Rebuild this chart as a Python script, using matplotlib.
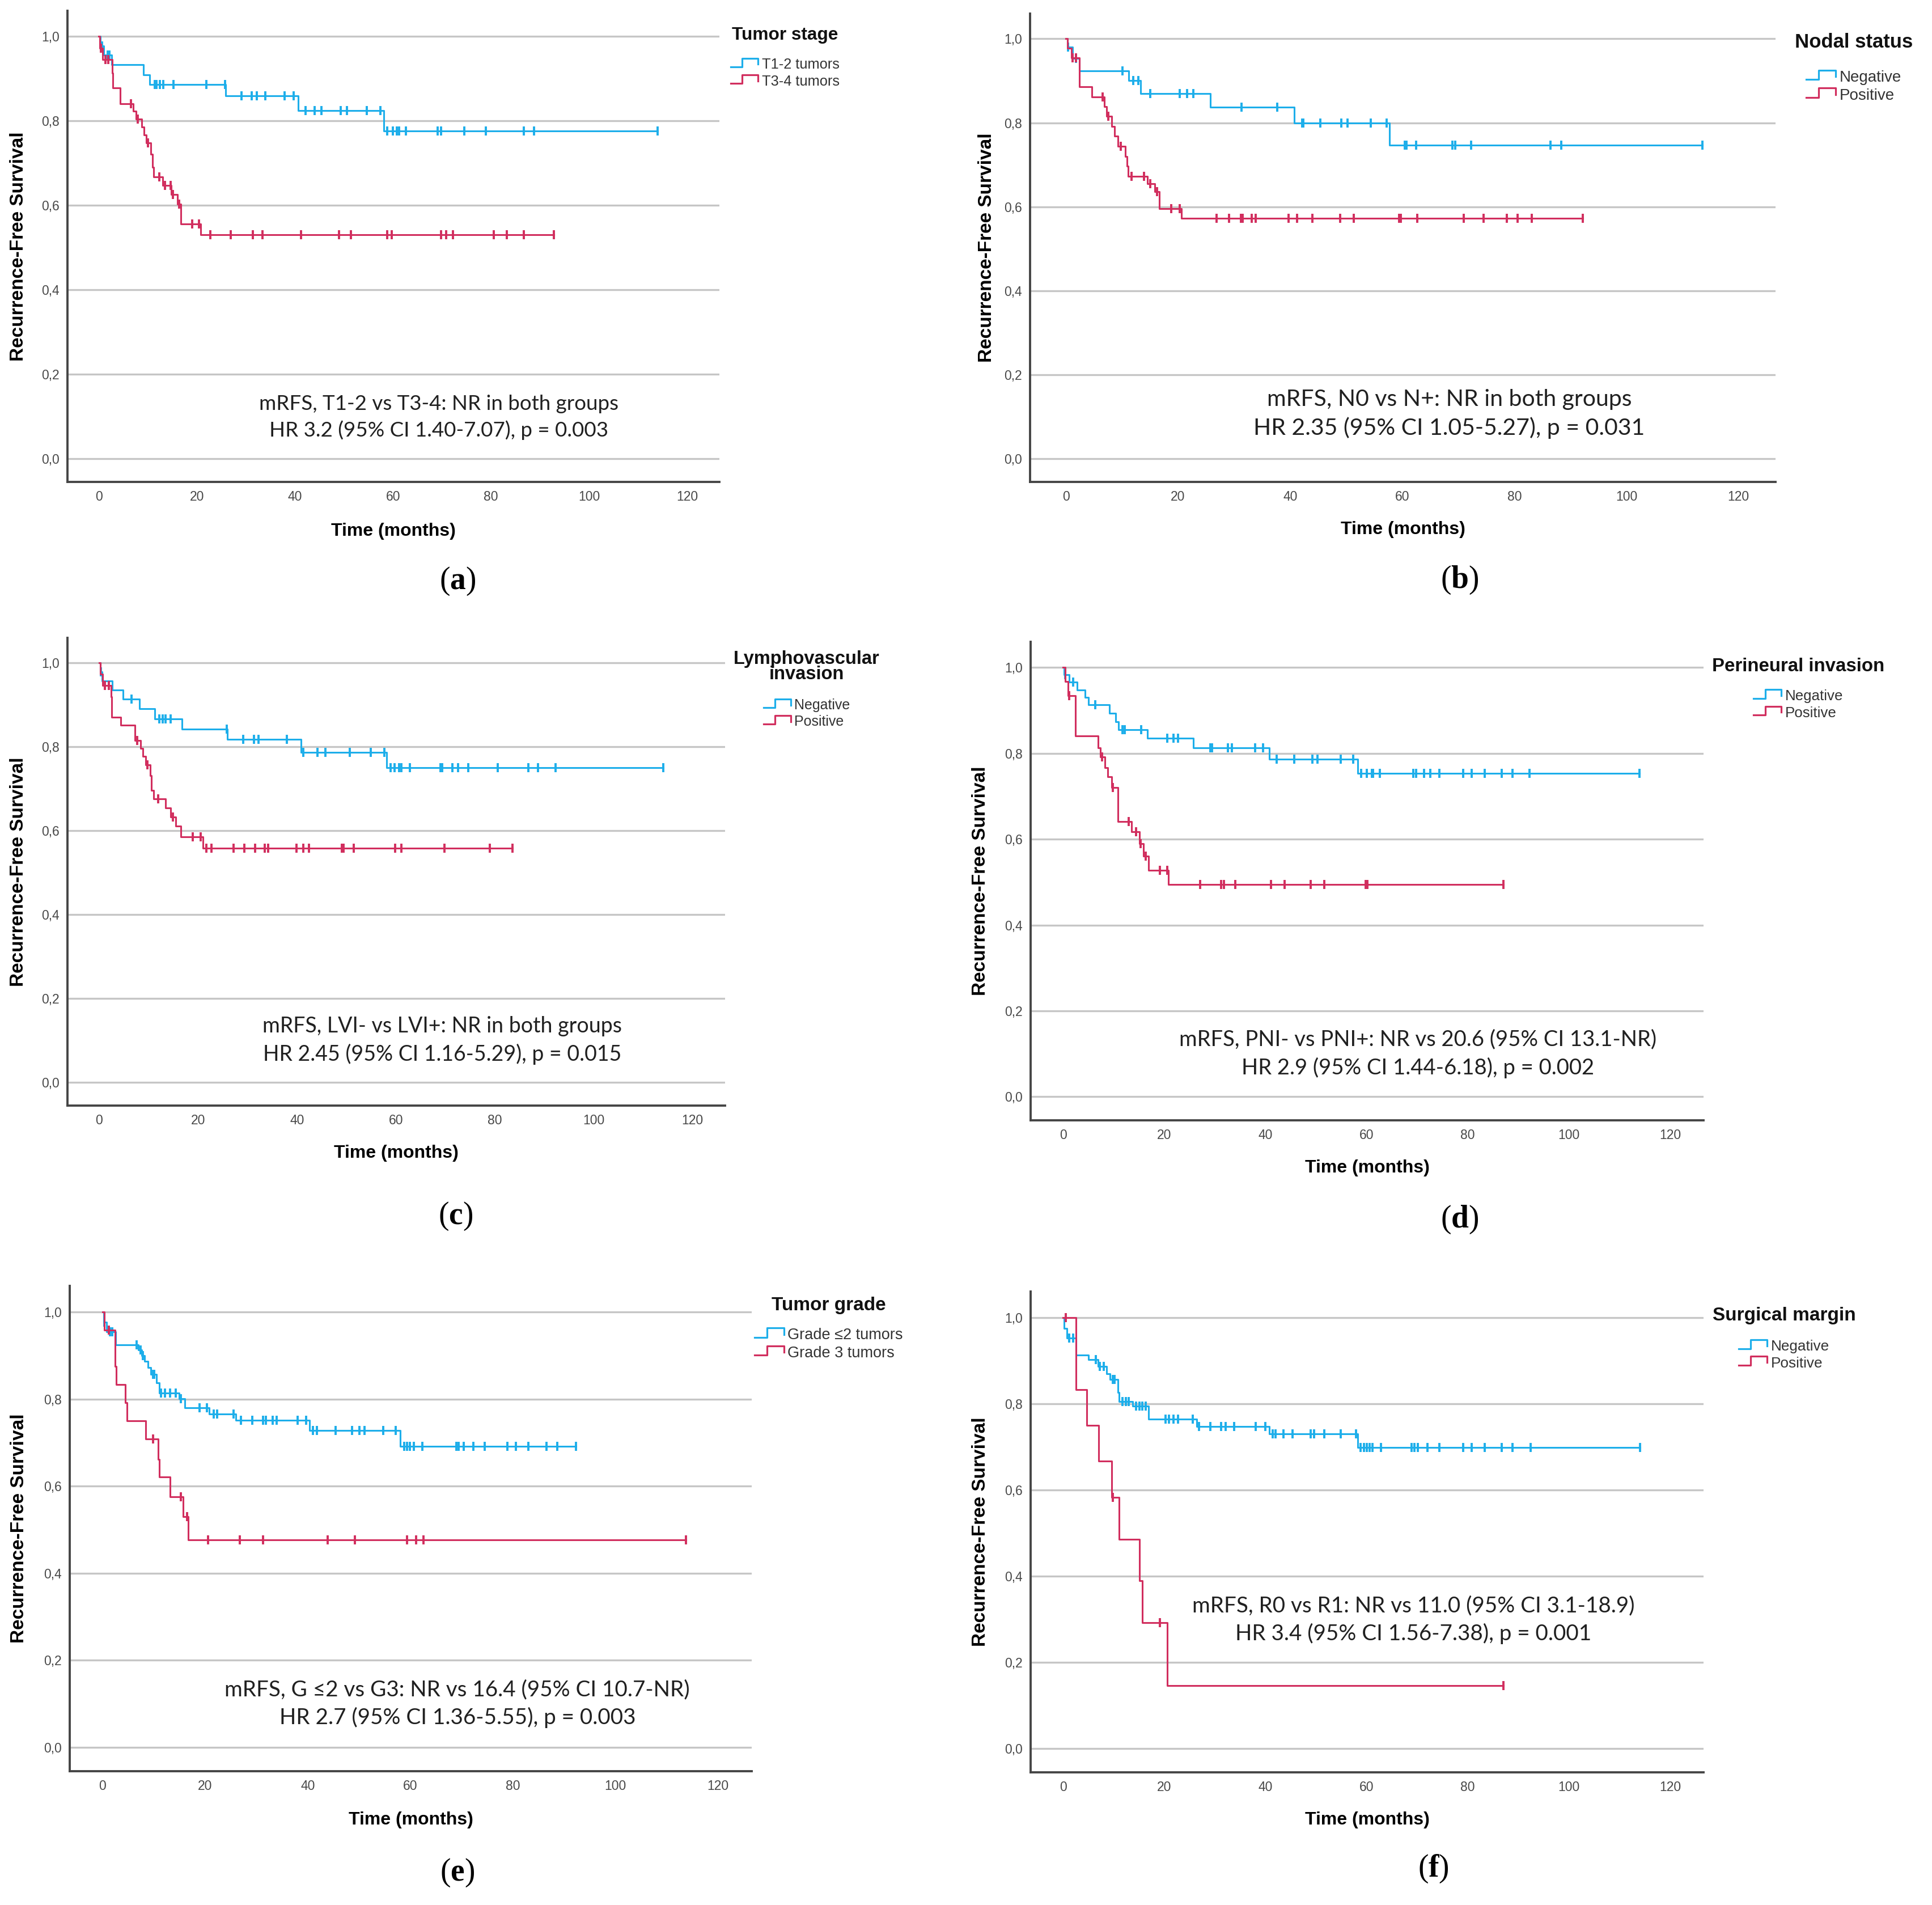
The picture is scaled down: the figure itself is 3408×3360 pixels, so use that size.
"""
Kaplan-Meier curves of metastasis/recurrence-free survival, six panels (a)-(f)
"""
import matplotlib.pyplot as plt
import numpy as np
from matplotlib.legend_handler import HandlerBase
from matplotlib.lines import Line2D

# ---------------- data ----------------
# *_t: event times (months), *_s: survival after each event, *_c: censored times
# (a) Tumor stage
a_blue_t = [0.3, 1.0, 2.6, 9.1, 10.4, 25.9, 40.7, 58.1]
a_blue_s = [0.977, 0.955, 0.932, 0.909, 0.886, 0.859, 0.824, 0.775]
a_blue_c = [0.6, 1.8, 2.2, 11.4, 11.8, 12.4, 13.1, 15.2, 21.9, 25.7, 29.1, 31.2, 32.2, 34.0,
            37.9, 39.7, 42.2, 44.0, 45.4, 49.4, 50.6, 54.7, 57.4, 58.8, 60.0, 60.8, 61.2,
            62.6, 69.1, 69.8, 74.6, 79.0, 86.7, 88.8, 114.0]
a_red_t = [0.2, 0.8, 2.7, 2.8, 4.4, 7.0, 7.6, 8.7, 9.2, 9.7, 10.6, 11.0, 11.2, 13.0, 14.8,
           16.0, 16.7, 20.8]
a_red_s = [0.972, 0.945, 0.912, 0.878, 0.840, 0.822, 0.804, 0.785, 0.766, 0.747, 0.720,
           0.690, 0.667, 0.647, 0.625, 0.603, 0.555, 0.530]
a_red_c = [0.4, 1.4, 1.9, 6.6, 7.9, 10.0, 12.3, 13.5, 14.6, 15.1, 16.4, 19.0, 20.4, 22.8,
           26.9, 31.4, 33.4, 41.3, 49.0, 51.4, 58.8, 59.7, 69.8, 70.8, 72.3, 80.6, 83.2,
           86.7, 92.8]

# (b) Nodal status
b_blue_t = [0.3, 1.2, 2.4, 11.2, 13.3, 25.8, 40.7, 57.7]
b_blue_s = [0.980, 0.953, 0.924, 0.901, 0.870, 0.837, 0.800, 0.747]
b_blue_c = [0.4, 1.8, 10.1, 12.0, 12.9, 15.0, 20.3, 21.6, 22.7, 31.3, 37.7, 42.1, 42.3, 45.4,
            49.1, 50.2, 54.4, 57.2, 60.5, 60.8, 62.5, 69.0, 69.5, 72.3, 86.4, 88.4, 113.6]
b_red_t = [0.3, 1.0, 2.4, 4.6, 6.8, 7.3, 8.2, 8.7, 9.3, 10.6, 10.9, 11.1, 14.5, 15.9, 16.7, 20.6]
b_red_s = [0.977, 0.955, 0.886, 0.862, 0.838, 0.815, 0.791, 0.768, 0.744, 0.720, 0.697,
           0.673, 0.655, 0.636, 0.595, 0.573]
b_red_c = [1.2, 1.8, 6.5, 7.6, 9.8, 11.7, 13.9, 15.0, 16.3, 18.8, 20.3, 26.9, 29.1, 31.2,
           31.5, 33.1, 33.9, 39.7, 41.2, 44.0, 48.9, 51.4, 59.4, 59.7, 62.7, 71.0, 74.5,
           78.7, 80.6, 83.1, 92.2]

# (c) Lymphovascular invasion
c_blue_t = [0.2, 0.6, 2.7, 4.8, 8.2, 11.3, 16.8, 25.9, 40.8, 58.2]
c_blue_s = [0.979, 0.957, 0.935, 0.914, 0.891, 0.867, 0.843, 0.818, 0.787, 0.750]
c_blue_c = [0.4, 6.5, 12.2, 12.9, 13.4, 14.5, 25.8, 29.1, 31.3, 32.2, 38.0, 41.3, 44.2, 45.8,
            50.7, 54.9, 57.7, 59.0, 59.7, 60.7, 61.1, 62.8, 69.0, 69.4, 71.4, 72.6, 74.7,
            80.6, 86.8, 88.8, 92.3, 114.1]
c_red_t = [0.2, 0.7, 2.4, 2.5, 4.4, 7.2, 8.4, 8.9, 9.4, 10.3, 10.6, 11.0, 13.4, 14.5, 15.5,
           16.5, 21.0]
c_red_s = [0.974, 0.947, 0.920, 0.871, 0.852, 0.816, 0.796, 0.777, 0.757, 0.731, 0.697,
           0.676, 0.654, 0.633, 0.611, 0.585, 0.559]
c_red_c = [1.2, 2.0, 7.7, 9.8, 11.9, 14.9, 18.9, 20.5, 21.7, 22.7, 27.2, 29.4, 31.5, 33.5,
           34.2, 39.9, 41.3, 42.5, 49.1, 49.4, 51.5, 59.9, 61.1, 69.9, 79.0, 83.6]

# (d) Perineural invasion
d_blue_t = [0.2, 1.2, 2.8, 4.4, 5.0, 9.2, 10.4, 11.0, 16.7, 25.8, 40.8, 58.2]
d_blue_s = [0.983, 0.966, 0.948, 0.931, 0.913, 0.893, 0.874, 0.855, 0.836, 0.813, 0.786, 0.753]
d_blue_c = [0.4, 2.0, 6.4, 11.8, 12.2, 15.4, 20.6, 21.8, 22.7, 29.1, 29.5, 32.6, 33.4, 38.0,
            39.5, 42.2, 45.7, 49.3, 50.3, 54.9, 57.3, 58.9, 60.0, 61.0, 61.3, 62.6, 69.2,
            69.8, 71.4, 72.6, 74.4, 79.1, 80.8, 83.4, 86.7, 88.8, 92.2, 113.9]
d_red_t = [0.4, 1.0, 2.4, 6.9, 7.4, 8.3, 8.8, 9.6, 10.8, 13.6, 15.1, 15.9, 16.9, 20.8]
d_red_s = [0.967, 0.935, 0.841, 0.813, 0.792, 0.767, 0.746, 0.721, 0.641, 0.618, 0.590,
           0.561, 0.527, 0.494]
d_red_c = [1.2, 7.7, 9.9, 13.0, 14.4, 15.3, 16.4, 19.1, 20.6, 27.1, 31.2, 31.8, 34.0, 41.1,
           43.8, 49.0, 51.6, 59.8, 60.1, 87.1]

# (e) Tumor grade
e_blue_t = [0.2, 0.8, 2.5, 7.0, 7.6, 8.2, 8.9, 9.4, 10.5, 11.1, 14.9, 16.0, 20.8, 26.0,
            40.4, 58.0]
e_blue_s = [0.977, 0.955, 0.924, 0.913, 0.900, 0.887, 0.872, 0.857, 0.837, 0.814, 0.801,
            0.780, 0.766, 0.751, 0.728, 0.692]
e_blue_c = [0.3, 1.5, 1.9, 6.7, 7.4, 7.9, 9.8, 10.1, 11.4, 12.2, 13.2, 14.3, 15.3, 18.9,
            20.3, 21.7, 22.4, 25.6, 27.0, 29.2, 31.3, 31.8, 33.2, 34.0, 38.0, 39.7, 41.0,
            41.8, 45.4, 48.7, 50.1, 51.1, 54.7, 57.2, 58.8, 59.4, 59.9, 60.7, 62.4, 69.0,
            69.4, 70.4, 72.3, 74.5, 79.0, 80.6, 83.0, 86.6, 88.7, 92.3]
e_red_t = [0.3, 2.4, 2.7, 4.4, 4.8, 8.4, 10.8, 11.1, 13.2, 15.7, 16.7]
e_red_s = [0.958, 0.875, 0.833, 0.792, 0.750, 0.708, 0.662, 0.621, 0.576, 0.530, 0.476]
e_red_c = [1.2, 9.8, 15.3, 16.5, 20.6, 26.8, 31.3, 43.9, 49.2, 59.4, 61.1, 62.6, 113.8]

# (f) Surgical margin
f_blue_t = [0.2, 0.8, 2.6, 5.0, 6.9, 8.6, 9.3, 10.8, 11.1, 13.8, 16.9, 26.4, 40.8, 58.3]
f_blue_s = [0.975, 0.952, 0.913, 0.902, 0.886, 0.870, 0.856, 0.826, 0.805, 0.794, 0.764,
            0.747, 0.730, 0.698]
f_blue_c = [1.2, 2.0, 6.5, 7.3, 8.1, 9.8, 10.2, 11.8, 12.4, 13.0, 14.4, 15.1, 15.7, 16.3,
            20.3, 20.9, 21.8, 22.7, 25.7, 26.9, 29.1, 31.3, 32.2, 33.8, 38.1, 40.0, 41.4,
            42.0, 43.6, 45.4, 49.0, 49.6, 51.6, 54.9, 57.9, 58.8, 59.5, 60.0, 60.6, 61.2,
            62.8, 68.9, 69.5, 70.1, 72.0, 74.4, 79.1, 80.8, 83.4, 86.7, 88.8, 92.4, 114.0]
f_red_t = [2.6, 4.7, 7.1, 9.6, 11.1, 15.1, 15.7, 20.6]
f_red_s = [0.833, 0.750, 0.667, 0.583, 0.486, 0.389, 0.292, 0.146]
f_red_c = [0.5, 9.9, 19.1, 87.1]

legend_titles = ['Tumor stage', 'Nodal status', 'Lymphovascular\ninvasion',
                 'Perineural invasion', 'Tumor grade', 'Surgical margin']
legend_labels = [('T1-2 tumors', 'T3-4 tumors'), ('Negative', 'Positive'),
                 ('Negative', 'Positive'), ('Negative', 'Positive'),
                 ('Grade ≤2 tumors', 'Grade 3 tumors'), ('Negative', 'Positive')]
notes = ['mRFS, T1-2 vs T3-4: NR in both groups\nHR 3.2 (95% CI 1.40-7.07), p = 0.003',
         'mRFS, N0 vs N+: NR in both groups\nHR 2.35 (95% CI 1.05-5.27), p = 0.031',
         'mRFS, LVI- vs LVI+: NR in both groups\nHR 2.45 (95% CI 1.16-5.29), p = 0.015',
         'mRFS, PNI- vs PNI+: NR vs 20.6 (95% CI 13.1-NR)\nHR 2.9 (95% CI 1.44-6.18), p = 0.002',
         'mRFS, G ≤2 vs G3: NR vs 16.4 (95% CI 10.7-NR)\nHR 2.7 (95% CI 1.36-5.55), p = 0.003',
         'mRFS, R0 vs R1: NR vs 11.0 (95% CI 3.1-18.9)\nHR 3.4 (95% CI 1.56-7.38), p = 0.001']
captions = ['a', 'b', 'c', 'd', 'e', 'f']
x_ticks = [0, 20, 40, 60, 80, 100, 120]
y_ticks = [0.0, 0.2, 0.4, 0.6, 0.8, 1.0]

curves = [(a_blue_t, a_blue_s, a_blue_c, a_red_t, a_red_s, a_red_c),
          (b_blue_t, b_blue_s, b_blue_c, b_red_t, b_red_s, b_red_c),
          (c_blue_t, c_blue_s, c_blue_c, c_red_t, c_red_s, c_red_c),
          (d_blue_t, d_blue_s, d_blue_c, d_red_t, d_red_s, d_red_c),
          (e_blue_t, e_blue_s, e_blue_c, e_red_t, e_red_s, e_red_c),
          (f_blue_t, f_blue_s, f_blue_c, f_red_t, f_red_s, f_red_c)]

# ---------------- layout (pixels of the 3408x3360 picture) ----------------
W, H = 3408, 3360
# axes box: left, right, top, bottom
boxes = [(119, 1269, 19, 850), (1817, 3132, 24, 850),
         (119, 1279, 1125, 1950), (1818, 3005, 1132, 1976),
         (123, 1326, 2268, 3124), (1818, 3005, 2278, 3126)]
# legend: centre x, title y, entries mid y, title size, entry size
legend_pos = [(1385, 62, 129, 22.8, 18.3), (3270, 75, 153, 25.0, 20.0),
              (1423, 1176, 1259, 23.5, 18.0), (3172, 1175, 1243, 23.8, 18.6),
              (1462, 2302, 2371, 24.0, 19.5), (3147, 2321, 2390, 24.0, 18.8)]
ylabel_x = [33, 1741, 33, 1730, 34, 1730]
xlabel_y = [937, 934, 2034, 2060, 3210, 3210]
note_pos = [(69.4, 0.098, 26.5), (68.4, 0.107, 29.5), (69.4, 0.100, 27),
            (70.1, 0.100, 27.5), (69.2, 0.100, 27.8), (69.3, 0.298, 27.8)]
caption_pos = [(807, 1025), (2575, 1023), (804, 2145), (2575, 2151), (807, 3303), (2528, 3296)]

BLUE = '#1DAEEA'
RED = '#D12E5E'

plt.rcParams['font.family'] = ['Liberation Sans', 'DejaVu Sans']
plt.rcParams['mathtext.fontset'] = 'custom'
plt.rcParams['mathtext.rm'] = 'Liberation Serif'
plt.rcParams['mathtext.bf'] = 'Liberation Serif:bold'

fig = plt.figure(figsize=(W / 100, H / 100), dpi=100)


class StepHandle(HandlerBase):
    # small step-shaped legend key, as SPSS draws it
    def create_artists(self, legend, orig_handle, xdescent, ydescent, width, height,
                       fontsize, trans):
        xs = np.array([0, 0.42, 0.42, 1.0, 1.0]) * width - xdescent
        ys = np.array([0.2, 0.2, 1.05, 1.05, 0.45]) * height - ydescent
        return [Line2D(xs, ys, color=orig_handle.get_color(), lw=2.3, transform=trans)]


def km(ax, t, s, c, color, label):
    t = np.asarray(t)
    s = np.asarray(s)
    c = np.asarray(c)
    end = max(c.max(), t.max())
    line, = ax.step(np.r_[0, t, end], np.r_[1.0, s, s[-1]], where='post',
                    color=color, lw=2.2, label=label)
    sc = np.r_[1.0, s][np.searchsorted(t, c, side='right')]
    ax.plot(c, sc, ls='none', marker='|', ms=11, mew=2.8, color=color)
    return line


for i in range(6):
    l, r, top, b = boxes[i]
    ax = fig.add_axes([l / W, 1 - b / H, (r - l) / W, (b - top) / H])
    bt, bs, bc, rt, rs, rc = curves[i]
    h1 = km(ax, bt, bs, bc, BLUE, legend_labels[i][0])
    h2 = km(ax, rt, rs, rc, RED, legend_labels[i][1])

    ax.set_xlim(-6.4, 126.6)
    ax.set_ylim(-0.055, 1.06)
    ax.set_xticks(x_ticks)
    ax.set_yticks(y_ticks)
    ax.set_yticklabels([f'{v:.1f}'.replace('.', ',') for v in y_ticks])
    ax.tick_params(length=0, labelsize=16.5, labelcolor='#484848')
    ax.tick_params(axis='x', pad=11)
    ax.tick_params(axis='y', pad=10)
    ax.yaxis.grid(True, color='#C6C6C6', lw=2.4)
    ax.set_axisbelow(True)
    for side in ['top', 'right']:
        ax.spines[side].set_visible(False)
    for side in ['left', 'bottom']:
        ax.spines[side].set_color('#454545')
        ax.spines[side].set_linewidth(2.8)

    ax.set_xlabel('Time (months)', fontsize=23, fontweight='bold')
    ax.xaxis.label.set_va('center')
    ax.xaxis.set_label_coords(0.5, (b - xlabel_y[i]) / (b - top))
    ax.set_ylabel('Recurrence-Free Survival', fontsize=24, fontweight='bold')
    ax.yaxis.label.set_va('center')
    ax.yaxis.set_label_coords((ylabel_x[i] - l) / (r - l), 0.5)

    nx, ny, nfs = note_pos[i]
    ax.text(nx, ny, notes[i], ha='center', va='center', multialignment='center',
            fontsize=nfs, color='#202020', family=['Lato', 'DejaVu Sans'], linespacing=1.42)

    # legend: title as a separate text, entries below it
    cx, ty, my, tfs, efs = legend_pos[i]
    fig.text(cx / W, 1 - ty / H, legend_titles[i], ha='center', va='center',
             multialignment='center', fontsize=tfs, fontweight='bold', color='#111111',
             linespacing=0.85)
    ax.legend(handles=[h1, h2], loc='center', bbox_to_anchor=(cx / W, 1 - my / H),
              bbox_transform=fig.transFigure, frameon=False, fontsize=efs, borderpad=0,
              labelspacing=0.2, handlelength=1.9, handletextpad=0.25,
              labelcolor='#333333', handler_map={Line2D: StepHandle()})

    px, py = caption_pos[i]
    fig.text(px / W, 1 - py / H, '($\\mathbf{' + captions[i] + '}$)', ha='center', va='center',
             fontsize=40, family='Liberation Serif')

fig.savefig('out.png', dpi=100, facecolor='white')
